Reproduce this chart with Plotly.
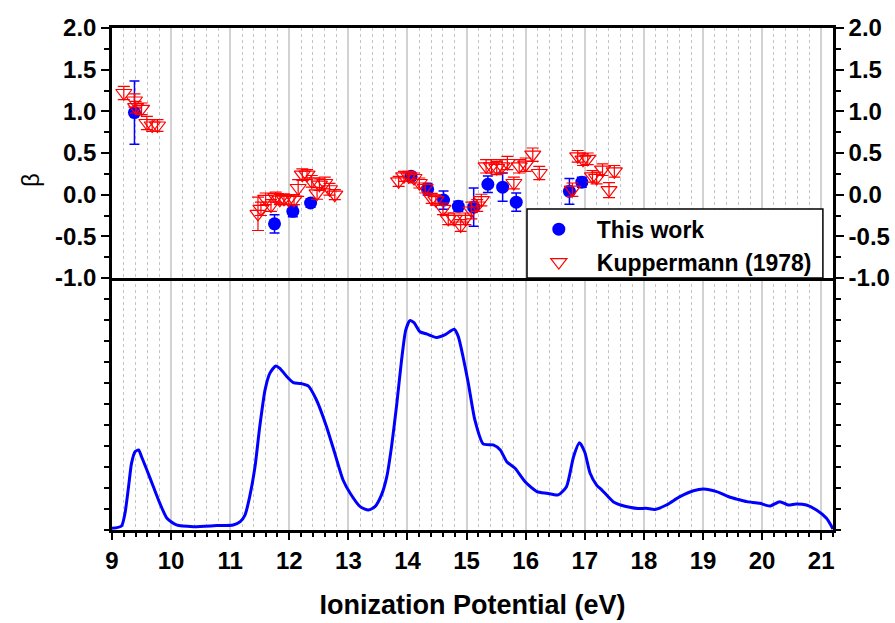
import plotly.graph_objects as go

# ---- data: beta parameters ----
this_x = [9.38, 11.75, 12.06, 12.36, 14.06, 14.34, 14.61, 14.86, 15.12, 15.36, 15.61, 15.84, 16.74, 16.95]
this_y = [0.985, -0.35, -0.20, -0.10, 0.22, 0.065, -0.065, -0.14, -0.15, 0.125, 0.09, -0.09, 0.04, 0.15]
this_err = [0.38, 0.11, 0.065, 0.05, 0.05, 0.07, 0.11, 0.06, 0.23, 0.10, 0.17, 0.11, 0.155, 0.06]

kup_x = [9.20, 9.38, 9.40, 9.50, 9.59, 9.68, 9.77,
         11.47, 11.52, 11.60, 11.69, 11.77, 11.84, 11.91, 11.99, 12.08, 12.15, 12.22, 12.30,
         12.38, 12.47, 12.51, 12.60, 12.68, 12.77,
         13.85, 13.94, 14.02, 14.11, 14.20, 14.30, 14.41, 14.48, 14.60, 14.69, 14.79, 14.90,
         14.98, 15.08, 15.18, 15.25, 15.33, 15.42, 15.51, 15.60, 15.69, 15.80, 15.89, 16.00,
         16.12, 16.23, 16.79, 16.88, 16.97, 17.05, 17.13, 17.20, 17.30, 17.41, 17.50]
kup_y = [1.22, 1.13, 1.05, 1.03, 0.86, 0.83, 0.83,
         -0.23, -0.17, -0.05, -0.13, -0.03, -0.06, -0.05, -0.06, -0.06, 0.08, 0.24, 0.24,
         0.16, 0.015, 0.12, 0.14, 0.065, 0.0,
         0.16, 0.22, 0.22, 0.20, 0.14, 0.08, -0.045, -0.065, -0.17, -0.29, -0.29, -0.37,
         -0.29, -0.19, -0.13, -0.065, 0.34, 0.34, 0.32, 0.34, 0.38, 0.14, 0.34, 0.36,
         0.48, 0.26, 0.06, 0.46, 0.42, 0.43, 0.22, 0.20, 0.30, 0.055, 0.28]
kup_err = [0.08, 0.08, 0.07, 0.07, 0.08, 0.07, 0.07,
           0.20, 0.08, 0.07, 0.07, 0.06, 0.06, 0.06, 0.06, 0.06, 0.10, 0.07, 0.06,
           0.07, 0.07, 0.07, 0.07, 0.07, 0.06,
           0.06, 0.06, 0.06, 0.06, 0.06, 0.06, 0.06, 0.06, 0.07, 0.07, 0.07, 0.07,
           0.07, 0.10, 0.07, 0.07, 0.08, 0.08, 0.08, 0.08, 0.08, 0.07, 0.08, 0.08,
           0.08, 0.08, 0.08, 0.07, 0.07, 0.07, 0.07, 0.07, 0.07, 0.09, 0.07]

# ---- data: photoelectron spectrum (arbitrary units) ----
spec_x = [9.00, 9.16, 9.22, 9.28, 9.33, 9.39, 9.45, 9.50, 9.59, 9.70, 9.81, 9.93, 10.09, 10.38,
          10.77, 11.05, 11.17, 11.25, 11.33, 11.42, 11.50, 11.59, 11.67, 11.77, 11.84, 11.96,
          12.07, 12.18, 12.32, 12.46, 12.63, 12.77, 12.91, 13.03, 13.20, 13.34, 13.45, 13.56,
          13.65, 13.73, 13.82, 13.90, 13.97, 14.04, 14.11, 14.21, 14.33, 14.49, 14.63, 14.79,
          14.86, 14.94, 15.03, 15.14, 15.28, 15.45, 15.57, 15.68, 15.82, 15.99, 16.19, 16.36,
          16.55, 16.69, 16.81, 16.91, 17.00, 17.09, 17.20, 17.29, 17.48, 17.62, 17.76, 17.90,
          18.04, 18.19, 18.38, 18.61, 18.84, 19.01, 19.23, 19.46, 19.60, 19.74, 19.96, 20.13,
          20.30, 20.44, 20.58, 20.75, 20.92, 21.09, 21.20]
spec_y = [0.08, 0.19, 0.80, 2.06, 3.17, 3.73, 3.81, 3.49, 2.86, 2.06, 1.27, 0.56, 0.24, 0.16,
          0.21, 0.24, 0.40, 0.71, 1.59, 3.02, 4.92, 6.67, 7.46, 7.81, 7.70, 7.30,
          7.02, 6.98, 6.86, 6.19, 4.92, 3.65, 2.38, 1.75, 1.11, 0.95, 1.11, 1.67,
          2.54, 3.97, 6.03, 8.10, 9.52, 9.97, 9.87, 9.44, 9.33, 9.17, 9.29, 9.56,
          9.21, 8.25, 6.98, 5.24, 4.10, 4.05, 3.81, 3.25, 2.94, 2.30, 1.83, 1.75,
          1.67, 2.06, 3.49, 4.15, 3.70, 2.70, 2.14, 1.90, 1.35, 1.18, 1.08, 1.02,
          1.03, 0.98, 1.19, 1.59, 1.87, 1.95, 1.83, 1.56, 1.45, 1.35, 1.27, 1.14,
          1.35, 1.19, 1.24, 1.19, 0.95, 0.56, 0.05]

# ---- tick labels ----
x_ticks = list(range(9, 22))
x_ticklabels = [str(v) for v in x_ticks]
beta_ticks = [-1.0, -0.5, 0.0, 0.5, 1.0, 1.5, 2.0]
beta_ticklabels = ["-1.0", "-0.5", "0.0", "0.5", "1.0", "1.5", "2.0"]

FONT = "Liberation Sans, Arial, sans-serif"
BLUE = "#0000ff"
RED = "#ff0000"

fig = go.Figure()

fig.add_trace(go.Scatter(
    x=spec_x, y=spec_y, mode="lines", xaxis="x", yaxis="y",
    line=dict(color=BLUE, width=3, shape="spline", smoothing=0.6),
    showlegend=False, hoverinfo="skip"))

fig.add_trace(go.Scatter(
    x=this_x, y=this_y, mode="markers", name="This work", xaxis="x2", yaxis="y2",
    legendgroup="a",
    marker=dict(symbol="circle", size=13, color=BLUE),
    error_y=dict(type="data", array=this_err, visible=True, color=BLUE, thickness=1.5, width=5)))

fig.add_trace(go.Scatter(
    x=kup_x, y=kup_y, mode="markers", name="Kuppermann (1978)", xaxis="x2", yaxis="y2",
    legendgroup="b",
    marker=dict(symbol="triangle-down-open", size=14, color=RED, line=dict(width=1.2, color=RED)),
    error_y=dict(type="data", array=kup_err, visible=True, color=RED, thickness=1.2, width=6)))

# dummy trace for right-hand beta axis
fig.add_trace(go.Scatter(x=[9], y=[0], xaxis="x2", yaxis="y3", mode="markers",
                         marker=dict(opacity=0), showlegend=False, hoverinfo="skip"))

tickfont = dict(family=FONT, size=24, color="black", weight="bold")
grid_minor = dict(dtick=0.2, showgrid=True, gridcolor="#c4c4c4", griddash="dot", gridwidth=1)

dom_split = 0.502

fig.update_layout(
    width=895, height=623,
    paper_bgcolor="white", plot_bgcolor="white",
    margin=dict(l=112, r=62, t=28, b=93, autoexpand=False),
    font=dict(family=FONT, color="black"),
    xaxis=dict(domain=[0, 1], range=[9, 21.2], anchor="y",
               tickvals=x_ticks, ticktext=x_ticklabels, tickfont=tickfont,
               ticks="outside", ticklen=7, tickwidth=2, tickcolor="black",
               showline=True, linewidth=2.5, linecolor="black",
               showgrid=True, gridcolor="#d2d2d2", gridwidth=1.5, zeroline=False,
               minor=dict(ticks="outside", ticklen=4, tickwidth=1.5, tickcolor="black", **grid_minor),
               title=dict(text="Ionization Potential (eV)",
                          font=dict(family=FONT, size=27, color="black", weight="bold"),
                          standoff=23)),
    xaxis2=dict(domain=[0, 1], range=[9, 21.2], anchor="y2", matches="x",
                tickvals=x_ticks, showticklabels=False, ticks="",
                showline=True, mirror=True, linewidth=2.5, linecolor="black",
                showgrid=True, gridcolor="#d2d2d2", gridwidth=1.5, zeroline=False,
                minor=dict(ticks="", **grid_minor)),
    yaxis=dict(domain=[0, dom_split], range=[0, 12], anchor="x", dtick=1,
               showticklabels=False, ticks="outside", ticklen=5, tickwidth=1.5, tickcolor="black",
               showline=True, mirror="ticks", linewidth=2.5, linecolor="black",
               showgrid=False, zeroline=False),
    yaxis2=dict(domain=[dom_split, 1], range=[-1, 2], anchor="x2",
                tickvals=beta_ticks, ticktext=beta_ticklabels, tickfont=tickfont,
                ticks="outside", ticklen=8, tickwidth=2, tickcolor="black",
                minor=dict(dtick=0.25, ticks="outside", ticklen=5, tickwidth=1.5, tickcolor="black"),
                showline=True, linewidth=2.5, linecolor="black",
                showgrid=False, zeroline=False),
    yaxis3=dict(overlaying="y2", side="right", range=[-1, 2], anchor="x2",
                tickvals=beta_ticks, ticktext=beta_ticklabels, tickfont=tickfont,
                ticks="outside", ticklen=8, tickwidth=2, tickcolor="black",
                minor=dict(dtick=0.25, ticks="outside", ticklen=5, tickwidth=1.5, tickcolor="black"),
                showline=True, linewidth=2.5, linecolor="black",
                showgrid=False, zeroline=False),
    legend=dict(x=0.567, y=0.642, xanchor="left", yanchor="top",
                bgcolor="rgba(0,0,0,0)", borderwidth=0,
                font=dict(family=FONT, size=23, color="black", weight="bold"),
                tracegroupgap=0, itemwidth=66),
    shapes=[dict(type="rect", xref="paper", yref="paper",
                 x0=0.5756, x1=0.986, y0=dom_split, y1=0.6394,
                 fillcolor="white", line=dict(color="black", width=1.5), layer="above")],
    annotations=[dict(text="β", xref="paper", yref="paper", x=-0.114, y=0.697,
                      xanchor="center", yanchor="middle", showarrow=False, textangle=-90,
                      font=dict(family=FONT, size=24, color="black"))],
)

fig.write_html("out.html", config={"displayModeBar": False},
               post_script="document.body.style.margin='0px';")
